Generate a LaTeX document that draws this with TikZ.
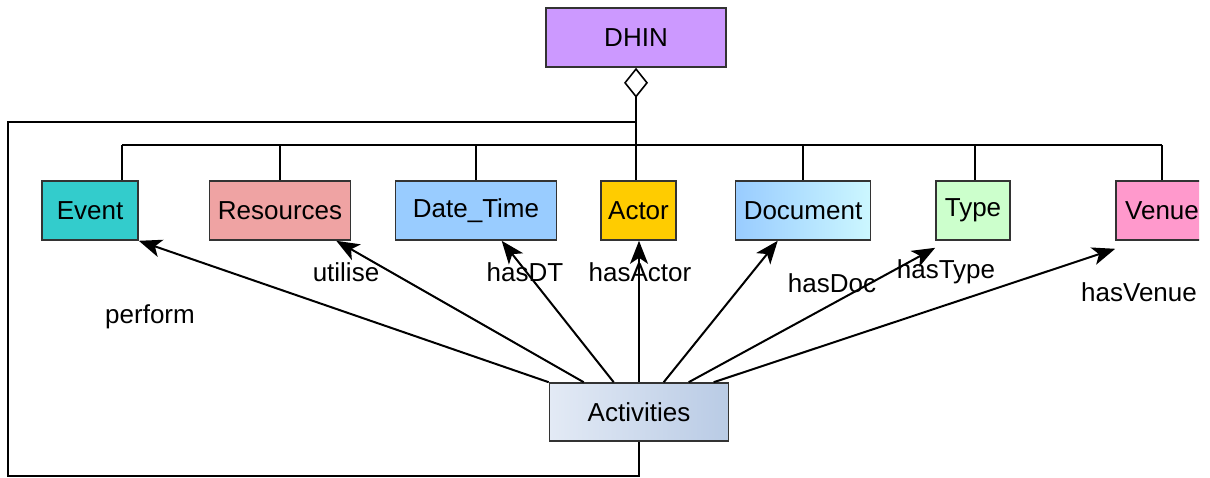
\documentclass[tikz,border=0pt]{standalone}
\usepackage{fontspec}
\setmainfont{Liberation Sans}
\usetikzlibrary{arrows.meta,calc}
\definecolor{cDhin}{HTML}{CC99FF}
\definecolor{cEvent}{HTML}{33CCCC}
\definecolor{cRes}{HTML}{EFA3A3}
\definecolor{cDT}{HTML}{99CCFF}
\definecolor{cActor}{HTML}{FFCC00}
\definecolor{cDocL}{HTML}{99CCFF}
\definecolor{cDocR}{HTML}{CCF7FF}
\definecolor{cType}{HTML}{CCFFCC}
\definecolor{cVenue}{HTML}{FF99CC}
\definecolor{cActL}{HTML}{E3EAF5}
\definecolor{cActR}{HTML}{B9CBE5}
\definecolor{cEdge}{HTML}{333333}
\tikzset{
  cls/.style={draw=cEdge, line width=1.6pt, inner sep=0pt, minimum height=59pt,
    font=\fontsize{26}{31}\selectfont},
  link/.style={line width=2pt, black},
  rel/.style={link, -{Stealth[length=23pt, width=18pt, inset=6pt]}},
  agg/.style={link, {Diamond[open, length=30pt, width=24pt, line width=1.6pt]}-},
  lbl/.style={font=\fontsize{26}{31}\selectfont, inner sep=0pt}
}
\begin{document}
\begin{tikzpicture}[x=1pt, y=-1pt]
  \useasboundingbox (0,0) rectangle (1210,477);
  \clip (0,0) rectangle (1199,477);

  % class boxes
  \node[cls, fill=cDhin, minimum width=180pt] (dhin) at (636,37.5) {DHIN};
  \node[cls, fill=cEvent, minimum width=96pt] (ev) at (90,210.5) {Event};
  \node[cls, fill=cRes, minimum width=141pt] (res) at (280,210.5) {Resources};
  \node[cls, fill=cDT, minimum width=161pt] (dt) at (476,210.5) {Date\_Time};
  \node[cls, fill=cActor, minimum width=75pt] (actor) at (638.5,210.5) {Actor};
  \node[cls, left color=cDocL, right color=cDocR, minimum width=135pt] (doc) at (803,210.5) {Document};
  \node[cls, fill=cType, minimum width=74pt] (type) at (973,210.5) {Type};
  \node[cls, fill=cVenue, minimum width=92pt] (venue) at (1162,210.5) {Venue};
  \node[cls, left color=cActL, right color=cActR, minimum width=179pt, minimum height=58pt] (act) at (639,412) {Activities};

  % aggregation: DHIN to its parts
  \coordinate (busL) at (122,145);
  \coordinate (busR) at (1162,145);
  \coordinate (tdrop) at (975,145);
  \coordinate (tj) at (636,122);
  \draw[agg] (dhin.south) -- (dhin.south |- actor.north);
  \draw[link] (busL) -- (busR);
  \draw[link] (busL) -- (busL |- ev.north);
  \draw[link] (res.north) -- (res.north |- busL);
  \draw[link] (dt.north) -- (dt.north |- busL);
  \draw[link] (doc.north) -- (doc.north |- busL);
  \draw[link] (tdrop) -- (tdrop |- type.north);
  \draw[link] (venue.north) -- (venue.north |- busL);

  % Activities back to the aggregation line
  \coordinate (lb) at (8,476);
  \draw[link] (act.south) |- (lb) |- (tj);

  % relations from Activities
  \draw[rel] (act.north west) -- (ev.south east);
  \draw[rel] ([xshift=35pt]act.north west) -- ([xshift=-15pt]res.south east);
  \draw[rel] ([xshift=65pt]act.north west) -- ([xshift=107pt]dt.south west);
  \draw[rel] (act.north) -- (act.north |- actor.south);
  \draw[rel] ([xshift=115pt]act.north west) -- ([xshift=43pt]doc.south west);
  \draw[rel] ([xshift=140pt]act.north west) -- ([yshift=-7pt]type.south west);
  \draw[rel] ([xshift=165pt]act.north west) -- ([yshift=-8pt]venue.south west);

  % relation labels
  \node[lbl] (lperform) at (150,317) {perform};
  \node[lbl] (lutil) at (346,272) {utilise};
  \node[lbl] (ldt) at (525,272) {hasDT};
  \node[lbl] (lactor) at (640,272) {hasActor};
  \node[lbl] (ldoc) at (832,283) {hasDoc};
  \node[lbl] (ltype) at (946,272) {hasType};
  \node[lbl] (lvenue) at (1139,292) {hasVenue};
\end{tikzpicture}
\end{document}
